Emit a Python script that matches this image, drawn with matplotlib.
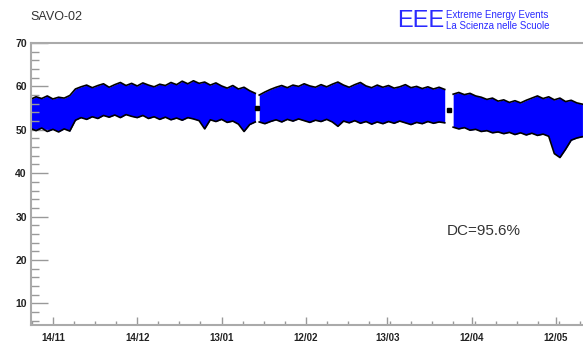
import numpy as np
import matplotlib
matplotlib.use('Agg')
import matplotlib.pyplot as plt
from matplotlib.ticker import MultipleLocator

plt.rcParams['font.family'] = ['Liberation Sans', 'DejaVu Sans']

# Giorni dal 14/11 (tre tratti separati da due buchi nella presa dati)
days1 = np.arange(-8.0, 73.0, 2.0)
days2 = np.arange(73.4, 140.0, 2.0)
days3 = np.arange(142.4, 189.0, 2.0)

upper1 = [57.0, 57.6, 57.2, 57.8, 57.1, 57.5, 57.3, 57.9,
          59.4, 59.9, 60.3, 59.7, 60.2, 60.6, 59.8, 60.4, 60.9, 60.2, 60.7,
          60.1, 60.8, 60.3, 59.9, 60.5, 60.2, 60.9, 60.4, 61.2, 60.6, 61.3,
          60.7, 61.0, 60.3, 60.8, 60.1, 59.6, 60.2, 59.4, 59.8, 59.0, 58.4]
lower1 = [50.3, 49.8, 50.4, 49.6, 50.1, 49.5, 50.2, 49.7,
          52.2, 52.8, 52.4, 53.0, 52.6, 53.3, 52.9, 53.4, 52.8, 53.5, 53.1,
          52.8, 53.3, 52.6, 53.0, 52.4, 52.9, 52.3, 52.7, 52.2, 52.8, 52.5,
          52.1, 50.2, 52.3, 51.9, 52.4, 51.7, 52.0, 51.3, 49.6, 51.2, 51.8]

upper2 = [58.0, 58.7, 59.3, 59.8, 60.2, 59.7, 60.3, 60.0, 60.6, 60.1,
          59.8, 60.4, 59.9, 60.5, 61.0, 60.3, 59.8, 60.4, 60.9, 60.1,
          59.7, 60.3, 59.8, 60.2, 59.6, 59.9, 60.4, 59.7, 60.0, 59.5,
          59.9, 59.4, 59.8, 59.3]
lower2 = [51.8, 51.4, 51.9, 52.3, 51.8, 52.4, 52.0, 52.5, 52.1, 51.7,
          52.2, 51.9, 52.4, 51.8, 50.8, 52.0, 51.6, 52.1, 51.5, 51.9,
          51.3, 51.8, 51.4, 51.9, 51.5, 52.0, 51.6, 51.2, 51.7, 51.4,
          51.9, 51.5, 51.8, 51.6]

upper3 = [58.2, 58.6, 58.1, 58.4, 57.8, 57.5, 57.0, 57.3, 56.6, 56.9,
          56.3, 56.7, 56.2, 56.8, 57.3, 57.8, 57.2, 57.6, 56.9, 57.3,
          56.5, 56.8, 56.2, 55.9]
lower3 = [50.6, 50.2, 50.5, 49.9, 50.1, 49.6, 49.8, 49.3, 49.5, 49.1,
          49.4, 48.9, 49.3, 48.8, 49.2, 48.7, 49.0, 48.5, 44.5, 43.6,
          45.5, 47.6, 48.1, 48.4]

gap_days = [72.7, 141.0]
gap_vals = [55.0, 54.6]

tick_days = [0, 30, 60, 90, 119, 149, 179]
tick_labels = ['14/11', '14/12', '13/01', '12/02', '13/03', '12/04', '12/05']

fig = plt.figure(figsize=(5.83, 3.44), dpi=100)
ax = fig.add_axes([31 / 583, 1 - 325 / 344, 552 / 583, 282 / 344])

for d, lo, up in [(days1, lower1, upper1), (days2, lower2, upper2), (days3, lower3, upper3)]:
    ax.fill_between(d, lo, up, color='#0000ff', lw=0)
    ax.plot(d, up, color='black', lw=1.2)
    ax.plot(d, lo, color='black', lw=1.2)
ax.plot(gap_days, gap_vals, 's', color='black', ms=2.2)

ax.set_xlim(-7.8, 188.6)
ax.set_ylim(5, 70)

ax.set_xticks(tick_days)
ax.set_xticklabels(tick_labels)
ax.xaxis.set_minor_locator(MultipleLocator(7.5))
ax.yaxis.set_minor_locator(MultipleLocator(2))
ax.set_yticks([10, 20, 30, 40, 50, 60, 70])

ax.tick_params(axis='y', which='major', direction='in', length=12, width=1, color='#999999',
               labelsize=7.5, labelcolor='#222222', pad=3)
ax.tick_params(axis='y', which='minor', direction='in', length=6, width=1, color='#999999')
ax.tick_params(axis='x', which='major', direction='in', length=6, width=1, color='#999999',
               labelsize=7, labelcolor='#222222', pad=6)
ax.tick_params(axis='x', which='minor', direction='in', length=3, width=1, color='#999999')
for lab in ax.get_xticklabels() + ax.get_yticklabels():
    lab.set_fontweight('bold')

for s in ['left', 'bottom', 'top']:
    ax.spines[s].set_color('#aaaaaa')
    ax.spines[s].set_linewidth(1.5)
ax.spines['right'].set_visible(False)

fig.text(30 / 583, 1 - 17 / 344, 'SAVO-02', fontsize=9, color='#333333', va='center', ha='left')
fig.text(397 / 583, 1 - 21 / 344, 'EEE', fontsize=17, color='#2a2aff', va='center', ha='left')
fig.text(446 / 583, 1 - 15 / 344, 'Extreme Energy Events', fontsize=7, color='#2a2aff',
         va='center', ha='left')
fig.text(446 / 583, 1 - 26 / 344, 'La Scienza nelle Scuole', fontsize=7, color='#2a2aff',
         va='center', ha='left')
fig.text(447 / 583, 1 - 231 / 344, 'DC=95.6%', fontsize=11, color='#333333',
         va='center', ha='left')

fig.savefig('out.png', dpi=100)
